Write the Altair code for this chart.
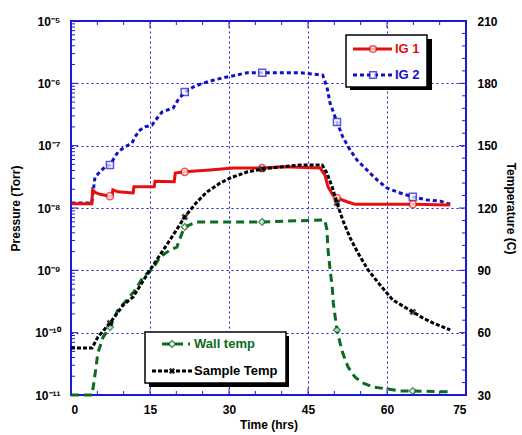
import altair as alt
import pandas as pd

FONT = "Liberation Sans"
RED = "#e41010"
BLUE = "#1010cc"
GREEN = "#0b6b1e"
BLACK = "#000000"
FRAME = "#1a1ad6"

series_names = ["IG 1", "IG 2", "Wall temp", "Sample Temp"]
marker_t = [7.4, 21.6, 36.3, 50.5, 64.9]

# IG 1 pressure (Torr)
ig1_t = [0.1, 3.95, 4.1, 4.6, 5.5, 7.4, 7.8, 7.95, 8.9, 11.8, 11.95, 15.8, 15.95, 19.6, 19.8,
         21.6, 26.4, 30.8, 36.3, 40.3, 47.3, 48.2, 48.8, 49.7, 50.5, 52.4, 53.9, 64.9, 72.0]
ig1_p = [1.17e-8, 1.17e-8, 1.95e-8, 1.78e-8, 1.66e-8, 1.55e-8, 1.58e-8, 1.95e-8, 1.82e-8, 1.74e-8,
         2.19e-8, 2.19e-8, 2.69e-8, 2.63e-8, 3.63e-8, 3.80e-8, 4.07e-8, 4.37e-8, 4.37e-8, 4.57e-8,
         4.37e-8, 3.39e-8, 2.19e-8, 1.62e-8, 1.45e-8, 1.26e-8, 1.15e-8, 1.15e-8, 1.12e-8]

# IG 2 pressure (Torr)
ig2_t = [0.1, 3.93, 4.56, 5.5, 6.46, 7.4, 7.97, 8.92, 10.25, 11.58, 12.15, 13.1, 14.05, 15.38,
         16.33, 17.28, 18.23, 19.37, 20.3, 21.6, 23.2, 25.1, 27.0, 28.9, 30.8, 33.4, 36.3, 39.7,
         43.5, 47.8, 48.6, 49.2, 50.5, 51.6, 53.0, 54.3, 56.2, 58.1, 60.0, 62.5, 64.9, 67.6, 70.1, 72.0]
ig2_p = [1.20e-8, 1.20e-8, 3.14e-8, 3.80e-8, 4.57e-8, 4.90e-8, 5.89e-8, 7.94e-8, 9.55e-8, 1.10e-7,
         1.38e-7, 1.78e-7, 2.00e-7, 2.14e-7, 2.75e-7, 3.47e-7, 3.72e-7, 3.98e-7, 5.37e-7, 7.24e-7,
         8.71e-7, 1.01e-6, 1.12e-6, 1.23e-6, 1.32e-6, 1.48e-6, 1.48e-6, 1.48e-6, 1.48e-6, 1.35e-6,
         8.71e-7, 4.79e-7, 2.40e-7, 1.38e-7, 8.51e-8, 5.89e-8, 4.07e-8, 2.82e-8, 2.09e-8, 1.74e-8,
         1.51e-8, 1.35e-8, 1.29e-8, 1.15e-8]

# Wall temp (C)
wall_t = [0.0, 4.0, 4.6, 5.1, 6.1, 7.4, 8.9, 10.6, 12.2, 13.7, 15.6, 16.9, 18.8, 20.1, 21.1, 21.6,
          23.9, 32.7, 36.3, 47.8, 48.2, 48.6, 48.8, 49.2, 49.6, 49.8, 50.5, 51.1, 51.6, 52.6, 53.9,
          55.4, 57.3, 60.0, 62.5, 64.9, 72.0]
wall_v = [30.0, 30.0, 40.6, 50.2, 57.9, 62.7, 70.9, 75.7, 80.5, 86.8, 91.1, 96.4, 99.8, 101.2, 108.0,
          110.9, 113.3, 113.3, 113.3, 114.2, 114.2, 109.4, 99.8, 90.2, 82.0, 74.3, 61.3, 55.0, 50.2,
          43.5, 38.7, 35.8, 33.9, 32.9, 31.9, 31.9, 31.5]

# Sample temp (C)
samp_t = [0.0, 4.0, 5.1, 7.4, 9.9, 11.8, 14.4, 16.9, 19.4, 21.6, 23.9, 25.8, 28.3, 30.2, 33.4, 36.3,
          39.7, 43.5, 47.7, 48.6, 49.6, 50.5, 51.6, 53.0, 54.5, 56.4, 58.7, 61.1, 64.9, 66.8, 68.7, 72.0]
samp_v = [52.6, 52.6, 57.9, 64.6, 73.3, 77.2, 87.8, 97.4, 107.0, 115.7, 122.9, 127.7, 132.0, 134.4,
          137.3, 138.8, 139.7, 140.7, 140.7, 136.8, 130.1, 122.4, 114.2, 105.6, 98.3, 90.2, 82.9, 75.7,
          70.0, 67.1, 64.7, 61.3]

x_major = [0, 15, 30, 45, 60, 75]
x_minor = [5, 10, 20, 25, 35, 40, 50, 55, 65, 70]
p_major = [1e-11, 1e-10, 1e-9, 1e-8, 1e-7, 1e-6, 1e-5]
p_minor = [m * 10.0 ** k for k in range(-11, -5) for m in range(2, 10)]
t_major = [30, 60, 90, 120, 150, 180, 210]
t_minor = [v for v in range(36, 210, 6) if v % 30 != 0]

W, H = 395, 374

sup = {-5: "⁻⁵", -6: "⁻⁶", -7: "⁻⁷", -8: "⁻⁸", -9: "⁻⁹", -10: "⁻¹⁰", -11: "⁻¹¹"}
expr = "''"
for k, s in sup.items():
    expr = f"(round(log(datum.value)/LN10) == {k} ? '{s}' : {expr})"
label_expr = "'10' + " + expr

lab = dict(labelFont=FONT, labelFontSize=12, labelFontWeight="bold", labelColor="black",
           titleFont=FONT, titleFontSize=12, titleFontWeight="bold", titleColor="black",
           ticks=False, domain=False)

x_axis = alt.Axis(values=x_major, grid=True, gridColor=FRAME, gridDash=[2, 3], gridWidth=1,
                  title="Time (hrs)", labelPadding=9, titlePadding=4, **lab)
p_axis = alt.Axis(values=p_major, orient="left", grid=True, gridColor=FRAME, gridDash=[2, 3],
                  gridWidth=1, labelExpr=label_expr, title="Pressure (Torr)", labelPadding=11,
                  titlePadding=12, **lab)
t_axis = alt.Axis(values=t_major, orient="right", grid=False, title="Temperature (C)",
                  labelPadding=11, titlePadding=6, **lab)

X = alt.X("t:Q", scale=alt.Scale(domain=[0, 75], nice=False, zero=False), axis=x_axis)
YP = alt.Y("P:Q", scale=alt.Scale(type="log", domain=[1e-11, 1e-5], nice=False), axis=p_axis)
YT = alt.Y("T:Q", scale=alt.Scale(domain=[30, 210], nice=False, zero=False), axis=t_axis)

ig1 = pd.DataFrame({"t": ig1_t, "P": ig1_p})
ig2 = pd.DataFrame({"t": ig2_t, "P": ig2_p})
wall = pd.DataFrame({"t": wall_t, "T": wall_v})
samp = pd.DataFrame({"t": samp_t, "T": samp_v})


def mk(df):
    return df[df["t"].isin(marker_t)]


def rule_y(vals, field, Y, x0, x1):
    return alt.Chart(pd.DataFrame({field: vals})).mark_rule(color=FRAME, strokeWidth=1).encode(
        y=Y, x=alt.value(x0), x2=alt.value(x1))


def rule_x(vals, y0, y1):
    return alt.Chart(pd.DataFrame({"t": vals})).mark_rule(color=FRAME, strokeWidth=1).encode(
        x=X, y=alt.value(y0), y2=alt.value(y1))


pressure = alt.layer(
    rule_y(p_major, "P", YP, 0, 7),
    rule_y(p_minor, "P", YP, 0, 4),
    rule_x(x_major, 0, 7),
    rule_x(x_minor, 0, 4),
    rule_x(x_major, H, H - 7),
    rule_x(x_minor, H, H - 4),
    alt.Chart(ig2).mark_line(color=BLUE, strokeWidth=3, strokeDash=[4, 3]).encode(x=X, y=YP),
    alt.Chart(mk(ig2)).mark_point(shape="square", size=50, color=BLUE, fill="white", filled=True,
                                  stroke=BLUE, strokeWidth=1.5).encode(x=X, y=YP),
    alt.Chart(ig1).mark_line(color=RED, strokeWidth=3).encode(x=X, y=YP),
    alt.Chart(mk(ig1)).mark_point(shape="circle", size=50, color=RED, fill="white", filled=True,
                                  stroke=RED, strokeWidth=1.5).encode(x=X, y=YP),
)

temperature = alt.layer(
    rule_y(t_major, "T", YT, W, W - 7),
    rule_y(t_minor, "T", YT, W, W - 4),
    alt.Chart(wall).mark_line(color=GREEN, strokeWidth=3, strokeDash=[8, 5]).encode(x=X, y=YT),
    alt.Chart(mk(wall)).mark_point(shape="diamond", size=45, color=GREEN, fill="white", filled=True,
                                   stroke=GREEN, strokeWidth=1.5).encode(x=X, y=YT),
    alt.Chart(samp).mark_line(color=BLACK, strokeWidth=3, strokeDash=[4, 2]).encode(x=X, y=YT),
    alt.Chart(mk(samp)).mark_point(shape="cross", angle=45, size=50, color=BLACK, filled=True,
                                   strokeWidth=0.5).encode(x=X, y=YT),
)

one = pd.DataFrame({"k": [0]})


def box(x0, x1, y0, y1, fill, stroke=None):
    kw = dict(fill=fill)
    if stroke:
        kw.update(stroke=stroke, strokeWidth=1.5)
    return alt.Chart(one).mark_rect(**kw).encode(
        x=alt.value(x0), x2=alt.value(x1), y=alt.value(y0), y2=alt.value(y1))


def seg(x0, x1, y, color, dash=None):
    kw = dict(color=color, strokeWidth=3)
    if dash:
        kw["strokeDash"] = dash
    return alt.Chart(one).mark_rule(**kw).encode(
        x=alt.value(x0), x2=alt.value(x1), y=alt.value(y))


def sym(x, y, shape, color, angle=0):
    kw = dict(shape=shape, size=45, filled=True, strokeWidth=1.5)
    if shape == "cross":
        kw.update(color=color, strokeWidth=0.5)
    else:
        kw.update(fill="white", stroke=color)
    if angle:
        kw["angle"] = angle
    return alt.Chart(one).mark_point(**kw).encode(x=alt.value(x), y=alt.value(y))


def txt(x, y, s, color):
    return alt.Chart(one).mark_text(align="left", baseline="middle", font=FONT, fontSize=13,
                                    fontWeight="bold", color=color, text=s).encode(
        x=alt.value(x), y=alt.value(y))


legend = alt.layer(
    box(279, 361, 18, 69, "black"),
    box(275, 356, 14, 66, "white", "black"),
    seg(282, 321, 28, RED), sym(302, 28, "circle", RED), txt(324, 28, series_names[0], RED),
    seg(282, 321, 54, BLUE, [4, 3]), sym(302, 54, "square", BLUE), txt(324, 54, series_names[1], BLUE),
    box(78, 218, 315, 366, "black"),
    box(74, 215, 311, 362, "white", "black"),
    seg(91, 119, 323, GREEN, [8, 5]), sym(101, 323, "diamond", GREEN), txt(123, 323, series_names[2], GREEN),
    seg(81, 121, 350, BLACK, [4, 2]), sym(101, 350, "cross", BLACK, 45), txt(123, 350, series_names[3], BLACK),
)

chart = alt.layer(pressure, temperature, legend).resolve_scale(y="independent").properties(
    width=W, height=H,
    autosize=alt.AutoSizeParams(type="none"),
    padding={"left": 71, "top": 21, "right": 56, "bottom": 40},
    background="white",
).configure_view(stroke=FRAME, strokeWidth=2)

chart.save("out.html", embed_options={"renderer": "svg", "actions": False})
